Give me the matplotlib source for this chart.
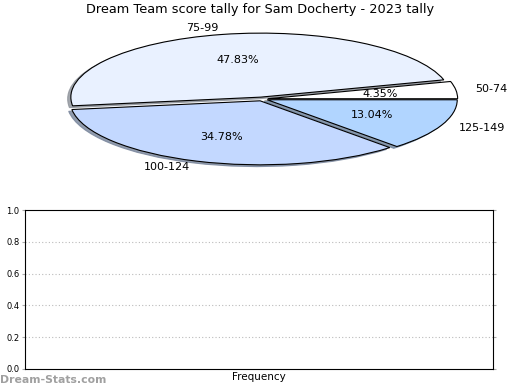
import matplotlib
matplotlib.use("Agg")
import matplotlib.pyplot as plt

title = "Dream Team score tally for Sam Docherty - 2023 tally"
categories = ["50-74", "75-99", "100-124", "125-149"]
counts = [1, 11, 8, 3]
colors = ["#ffffff", "#e9f1ff", "#c3d8ff", "#b1d5ff"]
y_ticks = [0.0, 0.2, 0.4, 0.6, 0.8, 1.0]

W, H = 520, 390
fig = plt.figure(figsize=(W / 100, H / 100), dpi=100)

# pie axes (elliptical)
cx, cy = 262, 99
rx, ry = 190, 64
ax = fig.add_axes([(cx - 1.1 * rx) / W, (H - cy - 1.1 * ry) / H, 2.2 * rx / W, 2.2 * ry / H])
wedges, texts, autotexts = ax.pie(
    counts, labels=categories, colors=colors, explode=[0.03] * 4,
    autopct="%.2f%%", startangle=0, counterclock=True,
    shadow=dict(ox=-0.012, oy=-0.02, shade=0.4, alpha=0.8),
    wedgeprops=dict(edgecolor="black", linewidth=0.8),
    textprops=dict(fontsize=8),
)
ax.set_aspect("auto")
ax.set_xlim(-1.1, 1.1)
ax.set_ylim(-1.1, 1.1)
ax.axis("off")

fig.text(0.5, 1 - 10 / H, title, ha="center", va="center", fontsize=9.3)

# bottom axes
l, r, t, b = 25, 493, 210, 369
ax2 = fig.add_axes([l / W, (H - b) / H, (r - l) / W, (b - t) / H])
ax2.set_ylim(0, 1)
ax2.set_xlim(0, 1)
ax2.set_yticks(y_ticks)
ax2.set_yticklabels([f"{v:.1f}" for v in y_ticks], fontsize=6)
ax2.set_xticks([])
ax2.tick_params(axis="y", length=2, color="#aaaaaa", right=True, pad=2)
for v in y_ticks[1:-1]:
    ax2.axhline(v, color="#bbbbbb", linestyle=(0, (1, 2)), linewidth=0.8)
ax2.set_xlabel("Frequency", fontsize=7.5, labelpad=2)
ax2.set_ylabel("Stat Intervals", fontsize=7.5, labelpad=2)
ax2.yaxis.set_label_coords(-0.053, 0.5)
for s in ax2.spines.values():
    s.set_linewidth(0.8)

fig.text(0 / W, 1 - 380 / H, "Dream-Stats.com", ha="left", va="center",
         fontsize=7.8, color="#a0a0a0", fontweight="semibold")

fig.savefig("out.png", dpi=100)
